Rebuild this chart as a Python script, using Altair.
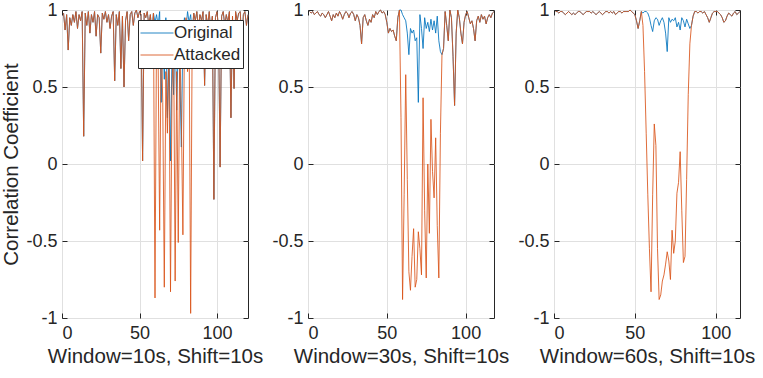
import altair as alt
import pandas as pd

BLUE = "#0072BD"
ORANGE = "#D95319"
INK = "#262626"
GRID = "#e0e0e0"
FONT = "Liberation Sans"

x_ticks = [0, 50, 100]
y_ticks = [-1, -0.5, 0, 0.5, 1]
x_titles = ["Window=10s, Shift=10s", "Window=30s, Shift=10s", "Window=60s, Shift=10s"]
x_max = [120, 118, 115]
series_names = ["Original", "Attacked"]
y_title = "Correlation Coefficient"

# ---- Window = 10 s ----
att_w10 = [
    0.98, 0.87, 0.97, 0.74, 0.95, 0.90, 0.97, 0.92, 0.99, 0.88,
    0.97, 0.93, 0.99, 0.18, 0.98, 0.90, 0.99, 0.85, 0.97, 0.92,
    0.99, 0.83, 0.97, 0.95, 0.72, 0.98, 0.94, 0.99, 0.92, 0.97,
    0.88, 0.96, 0.99, 0.54, 0.97, 0.90, 0.99, 0.62, 0.96, 0.50,
    0.93, 0.99, 0.80, 0.97, 0.99, 0.90, 0.98, 1.00, 0.95, 0.99,
    0.97, 0.02, 0.98, 0.95, 0.99, 0.90, 0.97, 0.85, 0.98, -0.87,
    0.90, 0.70, -0.43, 0.85, 0.40, -0.80, 0.60, 0.20, 0.75, -0.83,
    0.50, 0.85, -0.76, 0.60, -0.51, 0.80, 0.30, -0.46, 0.85, 0.95,
    0.60, 0.90, -0.97, 0.85, 0.98, 0.93, 0.99, 0.88, 0.97, 0.93,
    0.99, 0.51, 0.97, 0.90, 0.99, 0.85, 0.96, -0.23, 0.95, 0.99,
    0.88, -0.02, 0.96, 0.99, 0.90, 0.97, 0.92, 0.99, 0.30, 0.96,
    0.49, 0.99, 0.93, 0.98, 0.99, 0.78, 0.97, 0.99, 0.90, 0.97,
]
orig_w10 = [
    0.98, 0.87, 0.97, 0.74, 0.95, 0.90, 0.97, 0.92, 0.99, 0.88,
    0.97, 0.93, 0.99, 0.18, 0.98, 0.90, 0.99, 0.85, 0.97, 0.92,
    0.99, 0.83, 0.97, 0.95, 0.72, 0.98, 0.94, 0.99, 0.92, 0.97,
    0.88, 0.96, 0.99, 0.54, 0.97, 0.90, 0.99, 0.62, 0.96, 0.50,
    0.93, 0.99, 0.80, 0.97, 0.99, 0.90, 0.98, 1.00, 0.95, 0.99,
    0.97, 0.02, 0.98, 0.95, 0.99, 0.90, 0.97, 0.85, 0.98, 0.92,
    0.97, 0.90, 0.99, 0.40, 0.88, 0.55, 0.95, 0.30, 0.80, 0.02,
    0.75, 0.45, 0.92, 0.35, 0.80, 0.60, 0.11, 0.85, 0.95, 0.88,
    0.99, 0.92, 0.97, 0.85, 0.98, 0.93, 0.99, 0.88, 0.97, 0.93,
    0.99, 0.51, 0.97, 0.90, 0.99, 0.85, 0.96, -0.23, 0.95, 0.99,
    0.88, -0.02, 0.96, 0.99, 0.90, 0.97, 0.92, 0.99, 0.30, 0.96,
    0.49, 0.99, 0.93, 0.98, 0.99, 0.78, 0.97, 0.99, 0.90, 0.97,
]

# ---- Window = 30 s ----
att_w30 = [
    0.99, 0.98, 0.99, 0.97, 0.98, 0.99, 0.97, 0.96, 0.98, 0.97,
    0.95, 0.97, 0.99, 0.96, 0.93, 0.97, 0.95, 0.98, 0.96, 0.99,
    0.97, 0.94, 0.97, 0.99, 0.98, 0.95, 0.98, 0.99, 0.97, 0.93,
    0.97, 0.95, 0.90, 0.78, 0.95, 0.97, 0.93, 0.90, 0.94, 0.92,
    0.97, 0.95, 0.99, 0.97, 0.99, 1.00, 0.98, 0.99, 0.97, 0.92,
    0.85, 0.88, 0.86, 0.87, 0.83, 0.80, 0.95, 1.00, 0.30, -0.88,
    -0.20, 0.58, -0.10, -0.70, -0.82, -0.60, -0.42, -0.80, -0.75, -0.44,
    -0.55, -0.72, 0.43, -0.30, -0.74, 0.00, -0.45, 0.29, -0.05, -0.22,
    0.17, -0.40, -0.74, 0.20, 0.71, 0.75, 0.99, 0.90, 0.80, 1.00,
    0.95, 0.70, 0.38, 0.85, 1.00, 0.95, 0.85, 0.78, 0.92, 0.97,
    0.99, 0.95, 0.91, 0.93, 0.88, 0.80, 0.93, 0.96, 0.92, 0.97,
    0.94, 0.96, 0.91, 0.95, 0.97, 0.95, 0.98, 0.99,
]
orig_w30 = [
    0.99, 0.98, 0.99, 0.97, 0.98, 0.99, 0.97, 0.96, 0.98, 0.97,
    0.95, 0.97, 0.99, 0.96, 0.93, 0.97, 0.95, 0.98, 0.96, 0.99,
    0.97, 0.94, 0.97, 0.99, 0.98, 0.95, 0.98, 0.99, 0.97, 0.93,
    0.97, 0.95, 0.90, 0.78, 0.95, 0.97, 0.93, 0.90, 0.94, 0.92,
    0.97, 0.95, 0.99, 0.97, 0.99, 1.00, 0.98, 0.99, 0.97, 0.92,
    0.85, 0.88, 0.86, 0.87, 0.83, 0.80, 0.95, 1.00, 1.00, 0.97,
    0.95, 0.93, 0.85, 0.71, 0.88, 0.85, 0.87, 0.80, 0.82, 0.40,
    0.97, 0.88, 0.75, 0.95, 0.88, 0.92, 0.86, 0.94, 0.87, 0.93,
    0.85, 0.96, 0.80, 0.73, 0.71, 0.75, 0.99, 0.90, 0.80, 1.00,
    0.95, 0.70, 0.38, 0.85, 1.00, 0.95, 0.85, 0.78, 0.92, 0.97,
    0.99, 0.95, 0.91, 0.93, 0.88, 0.80, 0.93, 0.96, 0.92, 0.97,
    0.94, 0.96, 0.91, 0.95, 0.97, 0.95, 0.98, 0.99,
]

# ---- Window = 60 s ----
att_w60 = [
    0.99, 0.99, 0.98, 0.99, 0.99, 0.98, 0.97, 0.98, 0.99, 0.98,
    0.97, 0.98, 0.97, 0.98, 0.99, 0.99, 0.98, 0.97, 0.98, 0.99,
    0.99, 0.99, 0.98, 0.99, 0.98, 0.97, 0.98, 0.99, 0.98, 0.97,
    0.98, 0.99, 0.99, 0.98, 0.99, 0.98, 0.99, 0.97, 0.98, 0.99,
    0.99, 0.98, 0.99, 0.99, 0.99, 0.99, 1.00, 0.99, 0.98, 0.97,
    0.93, 0.88, 0.93, 0.99, 0.90, 0.60, 0.20, -0.20, -0.55, -0.83,
    -0.20, 0.26, 0.12, -0.55, -0.88, -0.85, -0.76, -0.72, -0.65, -0.57,
    -0.63, -0.75, -0.43, -0.58, -0.50, -0.19, -0.12, 0.08, -0.30, -0.64,
    -0.60, -0.10, 0.45, 0.78, 0.90, 0.96, 0.99, 0.99, 0.98, 0.99,
    0.99, 0.98, 0.99, 0.97, 0.95, 0.92, 0.95, 0.98, 0.99, 0.99,
    0.99, 0.98, 0.97, 0.95, 0.92, 0.93, 0.96, 0.98, 0.97, 0.96,
    0.98, 0.99, 0.97, 0.98, 0.99,
]
orig_w60 = [
    0.99, 0.99, 0.98, 0.99, 0.99, 0.98, 0.97, 0.98, 0.99, 0.98,
    0.97, 0.98, 0.97, 0.98, 0.99, 0.99, 0.98, 0.97, 0.98, 0.99,
    0.99, 0.99, 0.98, 0.99, 0.98, 0.97, 0.98, 0.99, 0.98, 0.97,
    0.98, 0.99, 0.99, 0.98, 0.99, 0.98, 0.99, 0.97, 0.98, 0.99,
    0.99, 0.98, 0.99, 0.99, 0.99, 0.99, 1.00, 0.99, 0.98, 0.97,
    0.93, 0.88, 0.93, 0.99, 0.98, 0.99, 0.99, 0.98, 0.95, 0.90,
    0.86, 0.93, 0.95, 0.94, 0.90, 0.93, 0.95, 0.92, 0.85, 0.73,
    0.95, 0.92, 0.94, 0.93, 0.95, 0.89, 0.92, 0.87, 0.95, 0.93,
    0.89, 0.94, 0.91, 0.88, 0.90, 0.96, 0.99, 0.99, 0.98, 0.99,
    0.99, 0.98, 0.99, 0.97, 0.95, 0.92, 0.95, 0.98, 0.99, 0.99,
    0.99, 0.98, 0.97, 0.95, 0.92, 0.93, 0.96, 0.98, 0.97, 0.96,
    0.98, 0.99, 0.97, 0.98, 0.99,
]

for o, a, m in [(orig_w10, att_w10, 120), (orig_w30, att_w30, 118), (orig_w60, att_w60, 115)]:
    assert len(o) == len(a) == m, (len(o), len(a), m)

LABEL_EXPR = "'' + datum.value"
LINE_OPACITY = 0.85


def make_df(orig, att):
    n = len(att)
    t = list(range(1, n + 1))
    return pd.DataFrame({
        "t": t + t,
        "v": orig + att,
        "series": ["Original"] * n + ["Attacked"] * n,
    })


def panel(orig, att, xmax, xtitle, first):
    df = make_df(orig, att)
    xs = alt.Scale(domain=[0, xmax], nice=False, zero=False)
    ys = alt.Scale(domain=[-1, 1], nice=False, zero=False)
    cscale = alt.Scale(domain=series_names, range=[BLUE, ORANGE])
    if first:
        legend = alt.Legend(
            title=None, orient="none", legendX=76, legendY=10,
            symbolType="stroke", symbolSize=1089, symbolStrokeWidth=1,
            symbolOpacity=LINE_OPACITY,
            clipHeight=22, labelOffset=0,
            labelFontSize=17, labelColor=INK, labelFont=FONT,
            fillColor="white", strokeColor=INK, padding=2, rowPadding=0,
        )
        color = alt.Color("series:N", scale=cscale, legend=legend)
    else:
        color = alt.Color("series:N", scale=cscale, legend=None)

    if first:
        yaxis = alt.Axis(values=y_ticks, title=y_title, grid=True, ticks=False, domain=False,
                         labelFontSize=18, titleFontSize=20.5, labelPadding=5, titlePadding=4,
                         labelExpr=LABEL_EXPR)
    else:
        yaxis = alt.Axis(values=y_ticks, title=None, grid=True, ticks=False, domain=False,
                         labelFontSize=18, labelPadding=5, labelExpr=LABEL_EXPR)
    xaxis = alt.Axis(values=x_ticks, title=xtitle, grid=True, ticks=False, domain=False,
                     labelFontSize=18, titleFontSize=20.5, labelPadding=6, titlePadding=4,
                     labelExpr=LABEL_EXPR)

    base = alt.Chart(df)
    l_orig = base.transform_filter(alt.datum.series == "Original").mark_line(
        strokeWidth=1, opacity=LINE_OPACITY
    ).encode(
        x=alt.X("t:Q", scale=xs, axis=xaxis),
        y=alt.Y("v:Q", scale=ys, axis=yaxis),
        color=color,
    )
    l_att = base.transform_filter(alt.datum.series == "Attacked").mark_line(
        strokeWidth=1, opacity=LINE_OPACITY
    ).encode(
        x=alt.X("t:Q", scale=xs, axis=None),
        y=alt.Y("v:Q", scale=ys, axis=None),
        color=color,
    )
    tick_kw = dict(labels=False, grid=False, domain=False, ticks=True, tickSize=5,
                   tickColor=INK, tickWidth=1, title=None, offset=-5)
    l_tr = base.mark_line(strokeOpacity=0).encode(
        x=alt.X("t:Q", scale=xs, axis=alt.Axis(values=x_ticks, orient="top", **tick_kw)),
        y=alt.Y("v:Q", scale=ys, axis=alt.Axis(values=y_ticks, orient="right", **tick_kw)),
    )
    l_bl = base.mark_line(strokeOpacity=0).encode(
        x=alt.X("t:Q", scale=xs, axis=alt.Axis(values=x_ticks, orient="bottom", **tick_kw)),
        y=alt.Y("v:Q", scale=ys, axis=alt.Axis(values=y_ticks, orient="left", **tick_kw)),
    )
    return alt.layer(l_orig, l_att, l_tr, l_bl).resolve_scale(
        x="independent", y="independent"
    ).properties(width=186, height=308)


panels = [
    panel(orig_w10, att_w10, x_max[0], x_titles[0], True),
    panel(orig_w30, att_w30, x_max[1], x_titles[1], False),
    panel(orig_w60, att_w60, x_max[2], x_titles[2], False),
]

chart = alt.hconcat(*panels, spacing=60, bounds="flush").resolve_scale(
    color="independent"
).resolve_legend(color="independent").properties(
    padding={"left": 1, "top": 0, "right": 0, "bottom": 0}
).configure(font=FONT).configure_view(
    stroke=INK, strokeWidth=1
).configure_axis(
    labelColor=INK, titleColor=INK, gridColor=GRID, gridWidth=1,
    titleFontWeight="normal", labelFont=FONT, titleFont=FONT,
)

chart.save("out.html", embed_options={"renderer": "svg", "actions": False})
